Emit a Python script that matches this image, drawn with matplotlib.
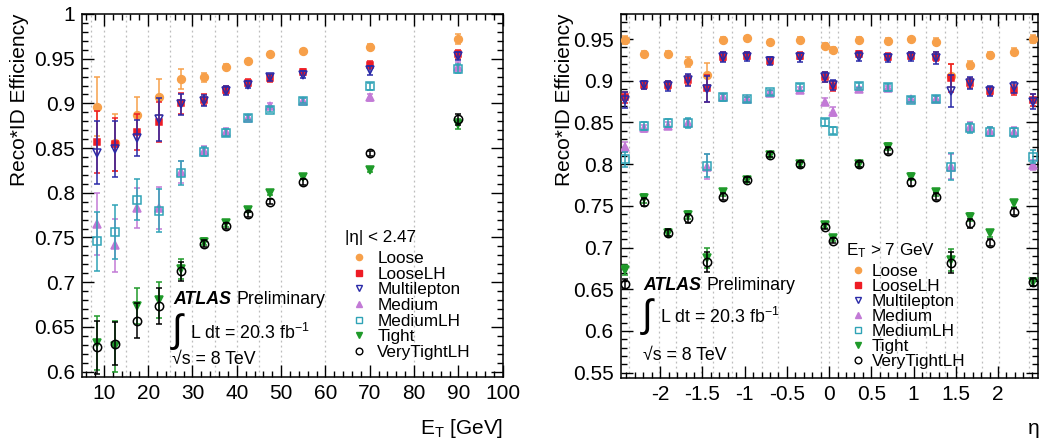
import matplotlib
matplotlib.use('Agg')
import matplotlib.pyplot as plt
from matplotlib.ticker import MultipleLocator, FuncFormatter
from matplotlib.lines import Line2D

plt.rcParams['font.family'] = ['Liberation Sans', 'DejaVu Sans']
plt.rcParams['axes.unicode_minus'] = False
plt.rcParams['mathtext.fontset'] = 'custom'
plt.rcParams['mathtext.rm'] = 'Liberation Sans'
plt.rcParams['mathtext.it'] = 'Liberation Sans:italic'
plt.rcParams['mathtext.bf'] = 'Liberation Sans:bold'

# ---------------- data ----------------
series_names = ['Loose', 'LooseLH', 'Multilepton', 'Medium', 'MediumLH', 'Tight', 'VeryTightLH']

# Left: efficiency vs E_T
et_edges = [7, 10, 15, 20, 25, 30, 35, 40, 45, 50, 60, 80, 100]
et_centers = [8.5, 12.5, 17.5, 22.5, 27.5, 32.5, 37.5, 42.5, 47.5, 55, 70, 90]

et_loose = [0.896, 0.856, 0.887, 0.907, 0.927, 0.929, 0.941, 0.947, 0.955, 0.959, 0.963, 0.972]
et_looselh = [0.857, 0.854, 0.868, 0.879, 0.900, 0.904, 0.915, 0.923, 0.928, 0.935, 0.943, 0.955]
et_multi = [0.845, 0.849, 0.861, 0.882, 0.899, 0.903, 0.914, 0.921, 0.929, 0.932, 0.937, 0.953]
et_medium = [0.765, 0.741, 0.783, 0.783, 0.823, 0.847, 0.868, 0.884, 0.897, 0.903, 0.907, 0.941]
et_mediumlh = [0.746, 0.756, 0.792, 0.780, 0.822, 0.846, 0.867, 0.884, 0.893, 0.903, 0.919, 0.939]
et_tight = [0.632, 0.628, 0.673, 0.680, 0.715, 0.745, 0.766, 0.781, 0.800, 0.818, 0.826, 0.877]
et_vtight = [0.627, 0.631, 0.657, 0.673, 0.712, 0.743, 0.763, 0.776, 0.790, 0.812, 0.844, 0.882]

et_loose_err = [0.033, 0.032, 0.020, 0.020, 0.011, 0.005, 0.003, 0.003, 0.002, 0.002, 0.003, 0.006]
et_looselh_err = [0.035, 0.030, 0.020, 0.022, 0.012, 0.006, 0.004, 0.004, 0.004, 0.003, 0.004, 0.005]
et_multi_err = [0.035, 0.031, 0.020, 0.024, 0.012, 0.006, 0.005, 0.004, 0.004, 0.004, 0.005, 0.005]
et_medium_err = [0.035, 0.030, 0.022, 0.024, 0.012, 0.005, 0.004, 0.003, 0.003, 0.003, 0.004, 0.005]
et_mediumlh_err = [0.033, 0.030, 0.023, 0.024, 0.013, 0.005, 0.004, 0.003, 0.003, 0.003, 0.004, 0.005]
et_tight_err = [0.030, 0.028, 0.020, 0.020, 0.011, 0.004, 0.004, 0.003, 0.003, 0.003, 0.003, 0.006]
et_vtight_err = [0.030, 0.024, 0.020, 0.020, 0.011, 0.004, 0.003, 0.003, 0.003, 0.003, 0.003, 0.006]

# Right: efficiency vs eta
eta_edges = [-2.37, -2.01, -1.81, -1.52, -1.37, -1.15, -0.8, -0.6, -0.1, 0.0,
             0.1, 0.6, 0.8, 1.15, 1.37, 1.52, 1.81, 2.01, 2.37]
eta_centers = [-2.42, -2.19, -1.91, -1.665, -1.445, -1.26, -0.975, -0.7, -0.35, -0.05,
               0.05, 0.35, 0.7, 0.975, 1.26, 1.445, 1.665, 1.91, 2.19, 2.42]

eta_loose = [0.949, 0.932, 0.932, 0.923, 0.907, 0.949, 0.951, 0.946, 0.949, 0.942,
             0.937, 0.949, 0.948, 0.950, 0.947, 0.906, 0.919, 0.931, 0.935, 0.950]
eta_looselh = [0.880, 0.895, 0.895, 0.901, 0.891, 0.929, 0.930, 0.924, 0.930, 0.905,
               0.894, 0.932, 0.929, 0.930, 0.929, 0.903, 0.897, 0.888, 0.889, 0.877]
eta_multi = [0.877, 0.895, 0.894, 0.901, 0.890, 0.928, 0.929, 0.924, 0.928, 0.905,
             0.895, 0.929, 0.927, 0.929, 0.927, 0.888, 0.897, 0.888, 0.892, 0.875]
eta_medium = [0.821, 0.843, 0.846, 0.849, 0.797, 0.880, 0.878, 0.885, 0.889, 0.875,
              0.863, 0.890, 0.891, 0.878, 0.878, 0.797, 0.845, 0.840, 0.839, 0.799]
eta_mediumlh = [0.806, 0.846, 0.849, 0.849, 0.798, 0.880, 0.878, 0.886, 0.892, 0.850,
                0.840, 0.894, 0.892, 0.877, 0.878, 0.797, 0.843, 0.839, 0.838, 0.809]
eta_tight = [0.673, 0.759, 0.718, 0.739, 0.687, 0.766, 0.781, 0.811, 0.800, 0.727,
             0.711, 0.800, 0.821, 0.785, 0.766, 0.685, 0.737, 0.717, 0.753, 0.659]
eta_vtight = [0.656, 0.755, 0.718, 0.735, 0.683, 0.761, 0.781, 0.811, 0.800, 0.725,
              0.708, 0.800, 0.816, 0.778, 0.761, 0.682, 0.729, 0.706, 0.743, 0.659]

eta_loose_err = [0.005, 0.004, 0.004, 0.006, 0.014, 0.003, 0.003, 0.003, 0.003, 0.003,
                 0.003, 0.003, 0.003, 0.003, 0.004, 0.014, 0.005, 0.004, 0.004, 0.005]
eta_looselh_err = [0.007, 0.005, 0.005, 0.006, 0.016, 0.005, 0.004, 0.004, 0.004, 0.006,
                   0.006, 0.004, 0.004, 0.004, 0.005, 0.017, 0.006, 0.005, 0.006, 0.007]
eta_multi_err = [0.010, 0.005, 0.006, 0.007, 0.016, 0.006, 0.005, 0.005, 0.005, 0.006,
                 0.006, 0.005, 0.005, 0.005, 0.007, 0.019, 0.007, 0.006, 0.007, 0.009]
eta_medium_err = [0.006, 0.004, 0.004, 0.005, 0.015, 0.004, 0.003, 0.003, 0.003, 0.004,
                  0.005, 0.003, 0.003, 0.003, 0.004, 0.015, 0.005, 0.004, 0.005, 0.006]
eta_mediumlh_err = [0.009, 0.005, 0.005, 0.006, 0.014, 0.004, 0.003, 0.003, 0.004, 0.004,
                    0.004, 0.003, 0.004, 0.003, 0.004, 0.016, 0.006, 0.005, 0.005, 0.008]
eta_tight_err = [0.006, 0.005, 0.004, 0.005, 0.012, 0.004, 0.003, 0.003, 0.003, 0.003,
                 0.003, 0.003, 0.004, 0.004, 0.004, 0.013, 0.005, 0.004, 0.004, 0.005]
eta_vtight_err = [0.006, 0.005, 0.004, 0.005, 0.012, 0.004, 0.003, 0.003, 0.003, 0.003,
                  0.003, 0.003, 0.004, 0.004, 0.004, 0.013, 0.005, 0.004, 0.004, 0.005]

# ---------------- styles ----------------
styles = {
    'Loose':       dict(marker='o', c='#f7a04a', mfc='#f7a04a', ms=5.6),
    'LooseLH':     dict(marker='s', c='#ee1c25', mfc='#ee1c25', ms=5.0),
    'Multilepton': dict(marker='v', c='#2a2aa8', mfc='none', ms=6.2),
    'Medium':      dict(marker='^', c='#c27ad6', mfc='#c27ad6', ms=5.6),
    'MediumLH':    dict(marker='s', c='#2fa3b6', mfc='none', ms=6.2),
    'Tight':       dict(marker='v', c='#1f9a2a', mfc='#1f9a2a', ms=5.6),
    'VeryTightLH': dict(marker='o', c='black', mfc='none', ms=6.0),
}

W, H = 1044, 443
fig = plt.figure(figsize=(W / 100, H / 100), dpi=100)


def axrect(l, r, t, b):
    return [l / W, 1 - b / H, (r - l) / W, (b - t) / H]


axL = fig.add_axes(axrect(81.7, 502.7, 14, 376.7))
axR = fig.add_axes(axrect(620.5, 1037.7, 14, 378))

fmt = FuncFormatter(lambda v, p: ('%g' % round(v, 4)))


def style_axes(ax, xmaj, xmin, ymaj, ymin):
    for s in ax.spines.values():
        s.set_linewidth(1.1)
    ax.xaxis.set_major_locator(MultipleLocator(xmaj))
    ax.xaxis.set_minor_locator(MultipleLocator(xmin))
    ax.yaxis.set_major_locator(MultipleLocator(ymaj))
    ax.yaxis.set_minor_locator(MultipleLocator(ymin))
    ax.xaxis.set_major_formatter(fmt)
    ax.yaxis.set_major_formatter(fmt)
    ax.tick_params(which='both', direction='in', top=True, right=True, width=1.0)
    ax.tick_params(which='major', length=8.5, labelsize=15, pad=5)
    ax.tick_params(which='minor', length=4.3)


def draw(ax, x, data, errs):
    for z, (name, y, e) in enumerate(zip(series_names, data, errs)):
        st = styles[name]
        ax.errorbar(x, y, yerr=e, fmt=st['marker'], color=st['c'], ecolor=st['c'],
                    mfc=st['mfc'], mec=st['c'], ms=st['ms'], mew=1.1,
                    elinewidth=1.1, capsize=2.2, capthick=1.1, linestyle='none',
                    zorder=3 + z)


def legend(ax, anchor, spacing, textpad):
    handles = []
    for name in series_names:
        st = styles[name]
        handles.append(Line2D([], [], marker=st['marker'], linestyle='none', color=st['c'],
                              mfc=st['mfc'], mec=st['c'], ms=st['ms'] * 0.8, mew=1.0))
    ax.legend(handles, series_names, loc='upper left', bbox_to_anchor=anchor,
              frameon=False, fontsize=12.3, handlelength=1.0, handletextpad=textpad,
              labelspacing=spacing, borderpad=0, borderaxespad=0)


# ---------------- left panel ----------------
axL.set_xlim(5, 100)
axL.set_ylim(0.5942, 1.0)
style_axes(axL, 10, 2, 0.05, 0.01)
for e in et_edges[:-1]:
    axL.axvline(e, color='#bdbdbd', ls=(0, (1.5, 2.5)), lw=0.9, zorder=1)
draw(axL, et_centers,
     [et_loose, et_looselh, et_multi, et_medium, et_mediumlh, et_tight, et_vtight],
     [et_loose_err, et_looselh_err, et_multi_err, et_medium_err, et_mediumlh_err,
      et_tight_err, et_vtight_err])
legend(axL, (0.6385, 0.347), 0.04, 0.56)
axL.text(0.625, 0.383, '|η| < 2.47', transform=axL.transAxes, fontsize=12.3,
         ha='left', va='center')
axL.text(0.218, 0.2115, 'ATLAS', transform=axL.transAxes, fontsize=12.8,
         fontweight='bold', fontstyle='italic', ha='left', va='center')
axL.text(0.368, 0.2115, 'Preliminary', transform=axL.transAxes, fontsize=12.8,
         ha='left', va='center')
axL.text(0.213, 0.125, '∫', transform=axL.transAxes, fontsize=28,
         ha='left', va='center')
axL.text(0.258, 0.120, 'L dt = 20.3 fb$^{-1}$', transform=axL.transAxes, fontsize=12.8,
         ha='left', va='center')
axL.text(0.215, 0.048, '√s = 8 TeV', transform=axL.transAxes, fontsize=12.8,
         ha='left', va='center')

# ---------------- right panel ----------------
axR.set_xlim(-2.47, 2.47)
axR.set_ylim(0.5436, 0.980)
style_axes(axR, 0.5, 0.1, 0.05, 0.01)
for e in eta_edges:
    axR.axvline(e, color='#bdbdbd', ls=(0, (1.5, 2.5)), lw=0.9, zorder=1)
draw(axR, eta_centers,
     [eta_loose, eta_looselh, eta_multi, eta_medium, eta_mediumlh, eta_tight, eta_vtight],
     [eta_loose_err, eta_looselh_err, eta_multi_err, eta_medium_err, eta_mediumlh_err,
      eta_tight_err, eta_vtight_err])
legend(axR, (0.5496, 0.3135), 0.0, 0.29)
axR.text(0.5415, 0.349, 'E$_{\\mathrm{T}}$ > 7 GeV', transform=axR.transAxes,
         fontsize=12.3, ha='left', va='center')
axR.text(0.054, 0.253, 'ATLAS', transform=axR.transAxes, fontsize=12.8,
         fontweight='bold', fontstyle='italic', ha='left', va='center')
axR.text(0.206, 0.253, 'Preliminary', transform=axR.transAxes, fontsize=12.8,
         ha='left', va='center')
axR.text(0.052, 0.170, '∫', transform=axR.transAxes, fontsize=28,
         ha='left', va='center')
axR.text(0.095, 0.168, 'L dt = 20.3 fb$^{-1}$', transform=axR.transAxes, fontsize=12.8,
         ha='left', va='center')
axR.text(0.054, 0.063, '√s = 8 TeV', transform=axR.transAxes, fontsize=12.8,
         ha='left', va='center')

# axis titles
fig.text(20 / W, 1 - 14 / H, 'Reco*ID Efficiency', rotation=90, fontsize=15,
         ha='center', va='top')
fig.text(564 / W, 1 - 14 / H, 'Reco*ID Efficiency', rotation=90, fontsize=15,
         ha='center', va='top')
fig.text(503 / W, 1 - 428 / H, 'E$_{\\mathrm{T}}$ [GeV]', fontsize=15,
         ha='right', va='center')
fig.text(1040 / W, 1 - 428 / H, 'η', fontsize=15, ha='right', va='center')

fig.savefig('out.png', dpi=100)
